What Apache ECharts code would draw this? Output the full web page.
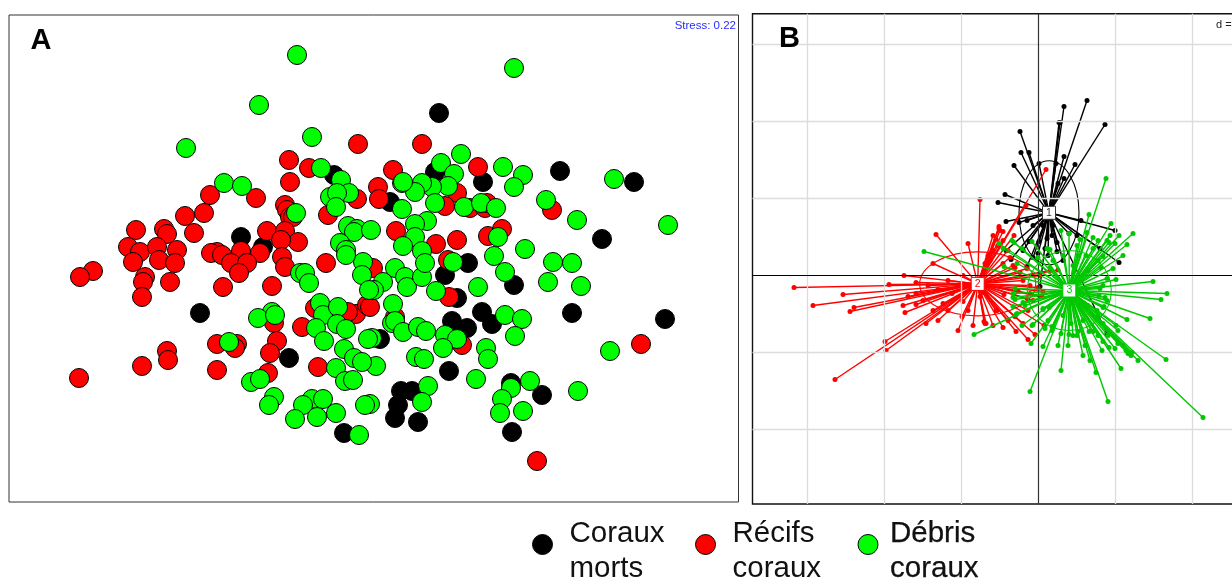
<!DOCTYPE html>
<html><head><meta charset="utf-8">
<style>html,body{margin:0;padding:0;background:#fff}#c{width:1232px;height:578px}</style>
<script src="https://cdn.jsdelivr.net/npm/echarts@6/dist/echarts.min.js"></script>
</head><body><div id="c"></div>
<script>
const groupNames = ['Coraux morts', 'Récifs coraux', 'Débris coraux'];
const groupColors = ['#000000', '#ff0000', '#00ff00'];
const spiderColors = ['#000000', '#ff0000', '#00c800'];
const stressLabel = 'Stress: 0.22';
const distanceLabel = 'd =';

// Panel A: nMDS ordination
const mortsA = [[334,175],[241,237],[263,247],[439,113],[435,172],[483,182],[560,171],[634,182],[390,202],[602,239],[468,263],[200,313],[289,358],[344,433],[445,275],[514,285],[457,298],[572,313],[665,319],[482,312],[492,324],[452,321],[467,328],[380,339],[449,371],[511,383],[542,395],[401,391],[412,391],[398,405],[395,418],[418,422],[512,432]];
const recifsA = [[358,144],[289,160],[309,168],[290,182],[210,195],[256,198],[285,205],[287,210],[290,217],[293,217],[204,213],[185,216],[357,199],[328,215],[136,230],[164,229],[167,234],[194,233],[267,231],[285,231],[298,242],[281,240],[128,247],[140,252],[157,247],[177,250],[217,252],[211,253],[241,251],[260,253],[282,257],[133,262],[159,260],[175,263],[222,255],[231,263],[247,263],[239,273],[285,267],[326,263],[93,271],[80,277],[145,277],[143,282],[142,297],[170,282],[223,287],[272,286],[274,323],[302,327],[315,308],[356,314],[348,312],[367,305],[277,341],[270,353],[268,373],[217,344],[237,344],[235,348],[167,351],[168,360],[142,366],[79,378],[217,370],[318,367],[422,144],[393,170],[378,187],[379,199],[478,167],[457,193],[445,206],[470,208],[485,208],[487,203],[396,231],[436,244],[457,240],[488,236],[502,229],[552,210],[448,260],[373,268],[449,297],[370,307],[395,317],[462,345],[641,344],[537,461]];
const debrisA = [[297,55],[259,105],[186,148],[312,137],[224,183],[242,186],[321,168],[341,180],[330,197],[349,193],[337,193],[336,207],[296,213],[348,226],[357,229],[354,232],[371,230],[340,243],[346,250],[363,262],[514,68],[461,154],[441,163],[503,167],[523,175],[514,187],[454,174],[448,186],[432,187],[422,183],[415,192],[402,183],[403,182],[614,179],[546,200],[577,220],[668,225],[435,203],[402,209],[464,207],[481,203],[496,208],[427,221],[415,224],[415,237],[403,246],[422,251],[498,237],[494,256],[525,249],[553,262],[572,263],[453,262],[395,268],[405,277],[407,287],[422,277],[425,263],[383,282],[374,290],[436,291],[505,272],[478,287],[548,282],[581,286],[393,304],[392,323],[395,321],[403,332],[418,327],[426,331],[445,335],[457,339],[443,348],[372,338],[416,357],[424,359],[376,366],[505,315],[522,319],[515,336],[486,348],[488,359],[476,379],[428,386],[422,402],[370,404],[530,381],[511,388],[502,399],[500,413],[523,411],[578,391],[610,351],[300,273],[305,273],[309,283],[362,275],[346,255],[369,290],[272,312],[258,318],[275,315],[320,303],[323,315],[338,307],[337,324],[346,329],[316,328],[324,341],[344,349],[354,358],[362,362],[368,339],[336,368],[345,381],[353,380],[229,342],[251,382],[260,379],[274,397],[269,405],[312,399],[323,399],[303,405],[336,413],[317,417],[295,419],[359,435],[365,405]];

// Panel B: group centroids, per-group ellipse half-axes and sites
const centroidLabels = ['1', '2', '3'];
const centroids = [[11,62.7],[-60.3,-8.4],[31.3,-15]];
const ellipseAxes = [[30,52],[58,32],[42,40]];
const mortsB = [[49,175],[26,169],[21,153],[22,153],[67,151],[-18,144],[-17,123],[-9,123],[-24,110],[1,112],[26,119],[37,111],[18,112],[26,97],[20,92],[-33,81],[-40,73],[-32,54],[-19,53],[-11,55],[43,55],[77,45],[81,13],[-27,16],[-32,25],[-9,34],[1,34],[9,37],[14,40],[19,33],[31,42],[62,27],[39,40],[7,27],[19,24],[-5,18],[-11,9],[69,-58],[2,-11],[15,50],[5,50],[-5,50],[10,20],[0,22],[25,15],[-15,25]];
const recifsB = [[8,106],[-58,76],[-39,49],[-38,45],[-102,41],[-70,32],[-24,40],[-35,35],[-12,70],[-53,12],[-105,12],[-134,0],[-75,0],[-244,-12],[-149,-9],[-122,-7],[-195,-19],[-130,-21],[-122,-18],[-225,-30],[-184,-32],[-188,-36],[-135,-30],[-122,-29],[-133,-37],[-86,-18],[-115,-25],[-75,-26],[-112,-48],[-153,-66],[-152,-75],[-203,-104],[-76,-41],[-80,-55],[-54,-46],[-52,-48],[-42,-35],[-34,-19],[-23,-41],[-22,-56],[-10,-64],[-3,-59],[6,-50],[-8,-18],[-11,-23],[2,-21],[5,-16],[-8,-10],[-55,-17],[-58,-21],[-39,47],[-28,18],[-11,7],[2,0],[12,5],[20,5.5],[4,-21],[-41,-35],[-53,-48],[-35,12],[-48,15],[-23,8],[-18,3],[-90,-5],[-100,-14],[-110,-10],[-95,-28],[-105,-35],[-90,-35],[-100,-45],[-70,-35],[-65,-50],[-45,-50],[-35,-52],[-30,-45],[-15,-48],[-10,-35],[-5,-25],[0,-12],[-20,-15],[-15,-5],[-25,10],[-40,30],[-45,25],[-30,25],[-45,40],[-35,44],[-50,20],[-42,36]];
const debrisB = [[68,97],[51,61],[73,52],[95,42],[49,43],[23,45],[31,42],[55,38],[60,35],[72,40],[81,40],[89,31],[77,32],[71,33],[42,36],[-39,32],[-26,35],[-35,27],[-114,24],[-16,27],[-6,34],[12,26],[39,30],[55,27],[75,7],[65,19],[-34,9],[-21,12],[63,8],[78,-4],[69,-3],[115,-6],[129,-18],[123,-24],[62,-13],[61,-20],[69,-25],[66,-31],[89,-44],[112,-43],[80,-55],[65,-66],[80,-68],[77,-73],[71,-72],[64,-75],[93,-80],[94,-77],[100,-85],[128,-84],[83,-93],[58,-97],[70,-126],[165,-142],[23,-95],[-8,-116],[5,-71],[-7,-68],[-64,-59],[-16,-50],[-5,-49],[7,-53],[14,-55],[23,-58],[31,-59],[39,-60],[40,-56],[51,-56],[55,-56],[65,-48],[33,-48],[14,-51],[5,-34],[11,-32],[-13,-30],[-25,-31],[-22,-39],[-25,-18],[-23,-13],[-23,-24],[69,35],[9,27],[-24,33],[0,18],[12,8],[-25,-22],[-15,-27],[-21,-38],[-6,-50],[5,-33],[15,-52],[65,-32],[67,-22],[59,-35],[90,-78],[88,-75],[85,-70],[60,-60],[47,-70],[30,-70],[20,-70],[45,-80],[52,-85],[35,-60],[10,-45],[25,-40],[45,-45],[60,-40],[78,-50],[70,-60],[50,-30],[65,-10],[50,5],[40,20],[25,20],[15,15],[85,20],[60,15],[35,10],[48,20]];
const gridTicksX = [-231,-154,-77,77,154];
const gridTicksY = [-154,-77,77,154,231];

const sitesB = [mortsB, recifsB, debrisB];
const sitesA = [mortsA, recifsA, debrisA];

const scatterA = sitesA.map((d, i) => ({
  name: groupNames[i], type: 'scatter', xAxisIndex: 0, yAxisIndex: 0, data: d,
  symbol: 'circle', symbolSize: 19, z: 3 + i, silent: true,
  itemStyle: { color: groupColors[i], borderColor: '#000', borderWidth: 1, opacity: 1 }
}));

const rules = {
  name: 'grid', type: 'scatter', xAxisIndex: 1, yAxisIndex: 1, data: [], z: 1, silent: true,
  markLine: {
    silent: true, symbol: 'none', label: { show: false }, animation: false,
    data: [
      ...gridTicksX.map(v => ({ xAxis: v, lineStyle: { color: '#dcdcdc', width: 1.3, type: 'solid' } })),
      ...gridTicksY.map(v => ({ yAxis: v, lineStyle: { color: '#dcdcdc', width: 1.3, type: 'solid' } })),
      { xAxis: 0, lineStyle: { color: '#333', width: 1.2, type: 'solid' } },
      { yAxis: 0, lineStyle: { color: '#000', width: 1, type: 'solid' } }
    ]
  }
};

const spiderSeries = [];
sitesB.forEach((d, i) => {
  spiderSeries.push({
    name: 'spider' + i, type: 'lines', coordinateSystem: 'cartesian2d', xAxisIndex: 1, yAxisIndex: 1,
    polyline: false, z: 3 + i, silent: true,
    lineStyle: { color: spiderColors[i], width: 1.4, opacity: 1, curveness: 0 },
    data: d.map(p => ({ coords: [centroids[i], p] }))
  });
  spiderSeries.push({
    name: 'site' + i, type: 'scatter', xAxisIndex: 1, yAxisIndex: 1, data: d, z: 3 + i, silent: true,
    symbol: 'circle', symbolSize: 5, itemStyle: { color: spiderColors[i], opacity: 1 }
  });
  spiderSeries.push({
    name: 'ellipse' + i, type: 'custom', xAxisIndex: 1, yAxisIndex: 1, z: 3 + i, silent: true,
    data: [[centroids[i][0], centroids[i][1], ellipseAxes[i][0], ellipseAxes[i][1]]],
    renderItem: (params, api) => {
      const c = api.coord([api.value(0), api.value(1)]);
      const s = api.size([api.value(2), api.value(3)]);
      return { type: 'ellipse', shape: { cx: c[0], cy: c[1], rx: s[0], ry: s[1] },
        style: { fill: 'none', stroke: spiderColors[i], lineWidth: 1.1 } };
    }
  });
});

const centroidSeries = centroids.map((c, i) => ({
  name: 'centroid' + i, type: 'scatter', xAxisIndex: 1, yAxisIndex: 1, z: 8, silent: true,
  data: [c], symbol: 'rect', symbolSize: 13,
  itemStyle: { color: '#fff', borderColor: i === 0 ? '#333' : spiderColors[i], borderWidth: 1, opacity: 1 },
  label: { show: true, position: 'inside', formatter: centroidLabels[i], fontSize: 10.5,
    fontFamily: 'Liberation Sans', color: i === 0 ? '#333' : spiderColors[i] }
}));

const legendPos = [[532, 502.5], [695, 502.5], [857.5, 502.5]];
const legends = groupNames.map((n, i) => {
  const t = { fontFamily: 'Liberation Sans', fontSize: 29.5, lineHeight: 35, color: '#111',
    textBorderColor: i === 2 ? '#000' : 'transparent', textBorderWidth: i === 2 ? 0.25 : 0 };
  return {
    data: [n], left: legendPos[i][0], top: legendPos[i][1], padding: 0, itemGap: 0,
    itemWidth: 20, itemHeight: 20, icon: 'circle', selectedMode: false, orient: 'horizontal',
    itemStyle: { color: groupColors[i], borderColor: '#000', borderWidth: 1 },
    formatter: s => '{pad| }\n' + s.split(' ').map(w => '{t|' + w + '}').join('\n'),
    textStyle: { padding: [0, 0, 0, i === 2 ? 7 : 12], rich: { pad: { fontSize: 8, lineHeight: 14, height: 14 }, t } }
  };
});

const chart = echarts.init(document.getElementById('c'), null, { renderer: 'canvas' });
chart.setOption({
  animation: false,
  backgroundColor: '#fff',
  legend: legends,
  grid: [
    { left: 9, top: 15, width: 729.5, height: 487, show: true, borderColor: '#333', borderWidth: 1, backgroundColor: '#fff', outerBoundsMode: 'none' },
    { left: 752.5, top: 13.7, width: 490, height: 490.3, show: true, borderColor: '#111', borderWidth: 1.4, backgroundColor: '#fff', outerBoundsMode: 'none' }
  ],
  xAxis: [
    { gridIndex: 0, type: 'value', min: 9, max: 738.5, show: false },
    { gridIndex: 1, type: 'value', min: -285.5, max: 204.5, show: false }
  ],
  yAxis: [
    { gridIndex: 0, type: 'value', min: 15, max: 502, inverse: true, show: false },
    { gridIndex: 1, type: 'value', min: -228.5, max: 261.8, show: false }
  ],
  graphic: [
    { type: 'text', left: 30.5, top: 26, style: { text: 'A', font: 'bold 29px "Liberation Sans"', fill: '#000' } },
    { type: 'text', left: 779, top: 24, z: 100, style: { text: 'B', font: 'bold 29px "Liberation Sans"', fill: '#000' } },
    { type: 'text', right: 496, top: 20, style: { text: stressLabel, font: '11.5px "Liberation Sans"', fill: '#2a2aff' } },
    { type: 'text', left: 1216, top: 19, style: { text: distanceLabel, font: '11px "Liberation Sans"', fill: '#222' } }
  ],
  series: [...scatterA, rules, ...spiderSeries, ...centroidSeries]
});
</script></body></html>
